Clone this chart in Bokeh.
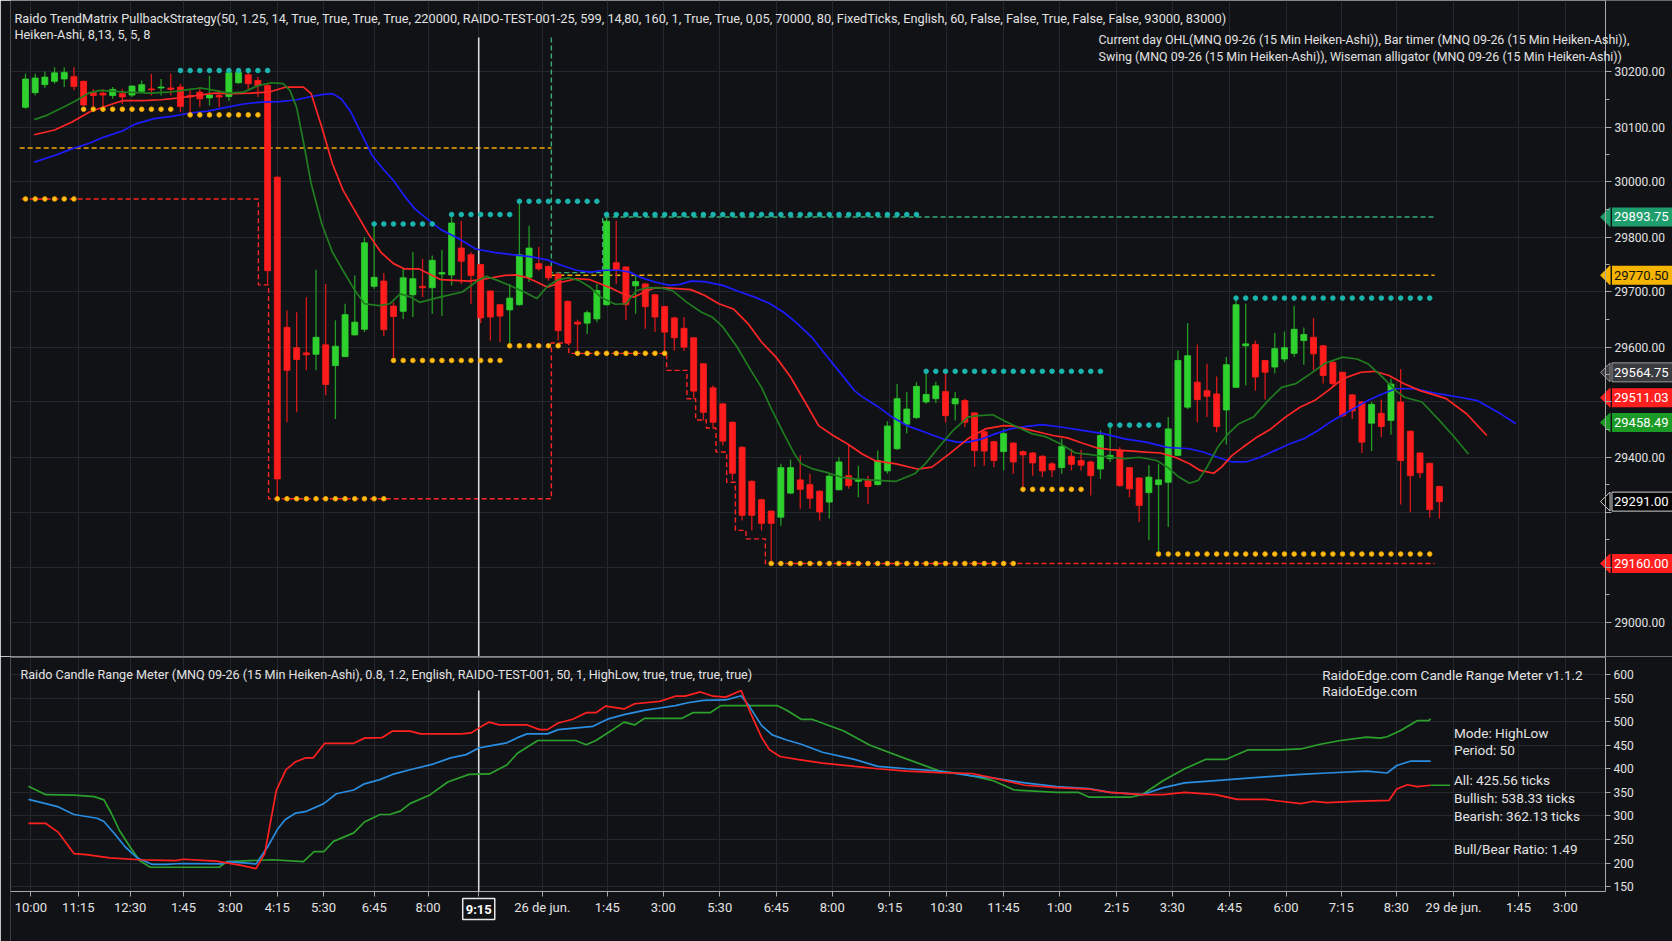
from bokeh.plotting import figure
from bokeh.models import Range1d, FixedTicker, ColumnDataSource, Label
from bokeh.layouts import column
from bokeh.embed import file_html
from bokeh.resources import INLINE

# ---------------- DATA ----------------
opens = [30126, 30157, 30174, 30181, 30186, 30191, 30181, 30157, 30156, 30151,
         30155, 30152, 30160, 30165, 30167, 30167, 30169, 30151, 30158, 30146,
         30151, 30149, 30178, 30195, 30183, 30172, 29978, 29660, 29617, 29606,
         29603, 29623, 29579, 29598, 29644, 29656, 29747, 29758, 29705, 29694,
         29729, 29747, 29744, 29773, 29771, 29828, 29814, 29793, 29737, 29708,
         29697, 29708, 29766, 29795, 29789, 29773, 29715, 29671, 29669, 29678,
         29708, 29797, 29788, 29748, 29752, 29729, 29704, 29680, 29658, 29638,
         29583, 29532, 29498, 29459, 29406, 29334, 29295, 29271, 29258, 29309,
         29337, 29327, 29313, 29290, 29316, 29346, 29334, 29337, 29327, 29356,
         29403, 29455, 29469, 29502, 29509, 29524, 29498, 29505, 29479, 29439,
         29418, 29397, 29415, 29397, 29394, 29387, 29371, 29363, 29387, 29378,
         29375, 29360, 29382, 29398, 29363, 29341, 29310, 29327, 29332, 29389,
         29491, 29544, 29526, 29519, 29485, 29533, 29621, 29624, 29590, 29576,
         29593, 29605, 29632, 29639, 29621, 29586, 29565, 29517, 29502, 29457,
         29478, 29463, 29502, 29440, 29394, 29372, 29323]
highs = [30197, 30197, 30202, 30211, 30211, 30211, 30183, 30165, 30165, 30169,
         30165, 30172, 30183, 30197, 30186, 30197, 30176, 30162, 30169, 30193,
         30162, 30204, 30205, 30204, 30190, 30177, 29980, 29696, 29692, 29724,
         29782, 29752, 29675, 29710, 29770, 29851, 29881, 29775, 29713, 29784,
         29819, 29805, 29812, 29824, 29895, 29886, 29819, 29794, 29738, 29710,
         29752, 29926, 29875, 29830, 29791, 29777, 29717, 29676, 29696, 29752,
         29897, 29886, 29789, 29771, 29754, 29731, 29706, 29683, 29682, 29639,
         29584, 29537, 29500, 29461, 29408, 29336, 29297, 29272, 29371, 29380,
         29389, 29350, 29315, 29350, 29385, 29413, 29367, 29346, 29399, 29461,
         29540, 29523, 29544, 29565, 29545, 29563, 29523, 29509, 29480, 29442,
         29420, 29445, 29417, 29399, 29396, 29389, 29375, 29424, 29403, 29401,
         29378, 29442, 29449, 29406, 29364, 29343, 29368, 29371, 29470, 29611,
         29669, 29623, 29583, 29556, 29597, 29724, 29710, 29632, 29591, 29648,
         29651, 29706, 29660, 29680, 29623, 29588, 29566, 29519, 29504, 29502,
         29507, 29551, 29572, 29442, 29396, 29374, 29325]
lows = [30123, 30151, 30167, 30176, 30169, 30162, 30129, 30126, 30126, 30144,
        30133, 30148, 30158, 30151, 30151, 30151, 30116, 30116, 30126, 30130,
        30126, 30140, 30176, 30162, 30148, 29752, 29300, 29459, 29480, 29569,
        29569, 29516, 29466, 29597, 29643, 29650, 29742, 29642, 29590, 29678,
        29682, 29724, 29689, 29684, 29749, 29752, 29710, 29669, 29632, 29629,
        29622, 29706, 29756, 29780, 29759, 29632, 29625, 29611, 29646, 29671,
        29706, 29752, 29675, 29689, 29657, 29650, 29604, 29611, 29610, 29509,
        29463, 29445, 29410, 29336, 29251, 29230, 29230, 29159, 29240, 29307,
        29276, 29276, 29251, 29255, 29315, 29318, 29300, 29286, 29325, 29350,
        29401, 29435, 29466, 29498, 29500, 29459, 29463, 29449, 29365, 29367,
        29364, 29357, 29350, 29322, 29346, 29343, 29343, 29350, 29357, 29357,
        29304, 29339, 29375, 29322, 29300, 29248, 29209, 29180, 29237, 29387,
        29487, 29459, 29470, 29438, 29412, 29532, 29537, 29526, 29507, 29563,
        29586, 29597, 29581, 29569, 29541, 29533, 29470, 29466, 29394, 29398,
        29428, 29433, 29285, 29269, 29341, 29257, 29255]
closes = [30186, 30188, 30190, 30199, 30200, 30170, 30131, 30151, 30152, 30164,
          30148, 30171, 30174, 30163, 30169, 30164, 30128, 30148, 30144, 30152,
          30148, 30199, 30200, 30176, 30172, 29780, 29339, 29569, 29592, 29602,
          29639, 29539, 29620, 29687, 29671, 29839, 29766, 29655, 29683, 29765,
          29763, 29744, 29802, 29776, 29881, 29800, 29770, 29680, 29682, 29684,
          29722, 29814, 29828, 29784, 29765, 29653, 29627, 29667, 29691, 29738,
          29885, 29782, 29708, 29757, 29704, 29682, 29650, 29638, 29618, 29525,
          29480, 29459, 29419, 29351, 29262, 29262, 29245, 29245, 29363, 29363,
          29317, 29298, 29269, 29345, 29375, 29325, 29338, 29323, 29378, 29451,
          29509, 29487, 29535, 29518, 29536, 29473, 29509, 29459, 29399, 29398,
          29378, 29435, 29375, 29390, 29373, 29356, 29358, 29408, 29370, 29368,
          29346, 29431, 29389, 29325, 29318, 29283, 29343, 29337, 29445, 29590,
          29600, 29507, 29514, 29450, 29581, 29708, 29625, 29555, 29565, 29615,
          29617, 29656, 29645, 29604, 29558, 29541, 29473, 29483, 29417, 29497,
          29450, 29540, 29378, 29346, 29352, 29274, 29291]

# Wiseman alligator lines (bar index, price)
gator_green = [(0.9, 30100), (2.2, 30109), (3.9, 30126), (5.2, 30140), (6.5, 30156), (7.7, 30162),
               (10.3, 30158), (12.9, 30156), (14.8, 30158), (16.6, 30163), (18.1, 30167), (19.5, 30162),
               (21.0, 30156), (22.5, 30158), (24.0, 30172), (25.4, 30178), (26.6, 30176), (27.3, 30162),
               (28.0, 30126), (28.8, 30042), (29.5, 29964), (30.6, 29879), (31.7, 29819), (32.8, 29780),
               (33.9, 29742), (35.0, 29710), (36.5, 29706), (37.6, 29710), (38.7, 29731), (39.8, 29724),
               (40.7, 29713), (42.8, 29724), (45.1, 29735), (46.7, 29759), (47.6, 29768), (48.8, 29759),
               (50.2, 29747), (51.7, 29733), (52.8, 29721), (53.9, 29747), (55.0, 29761), (56.1, 29765),
               (57.2, 29759), (58.3, 29745), (59.4, 29724), (60.9, 29709), (62.0, 29710), (63.1, 29738),
               (64.2, 29744), (65.7, 29743), (66.8, 29738), (68.3, 29713), (69.8, 29692), (70.9, 29682),
               (72.0, 29661), (73.5, 29618), (74.9, 29569), (76.0, 29533), (77.1, 29484), (78.3, 29435),
               (79.4, 29392), (80.1, 29371), (81.2, 29361), (82.7, 29353), (84.2, 29343), (85.6, 29339),
               (87.1, 29337), (89.9, 29334), (91.8, 29350), (92.9, 29371), (94.3, 29406), (95.8, 29442),
               (97.3, 29470), (98.4, 29473), (99.9, 29475), (101.0, 29463), (102.4, 29449), (103.9, 29435),
               (105.4, 29428), (106.9, 29413), (108.4, 29394), (109.8, 29391), (112.0, 29385), (113.5, 29382),
               (115.0, 29385), (116.8, 29378), (117.9, 29364), (119.1, 29343), (120.2, 29330), (121.1, 29336),
               (122.0, 29364), (123.1, 29406), (124.2, 29435), (125.3, 29456), (126.8, 29470), (128.3, 29505),
               (129.7, 29533), (131.2, 29541), (132.7, 29562), (134.2, 29584), (136.0, 29597), (137.5, 29593),
               (138.6, 29583), (140.1, 29555), (141.5, 29526), (142.4, 29512), (144.2, 29502), (146.0, 29463),
               (147.4, 29431), (149.0, 29392)]
gator_red = [(0.9, 30068), (3.0, 30078), (4.8, 30095), (6.6, 30116), (8.5, 30130), (10.0, 30140),
             (12.2, 30140), (14.0, 30142), (15.9, 30146), (17.7, 30151), (19.5, 30156), (21.4, 30155),
             (23.2, 30156), (25.1, 30158), (26.9, 30169), (28.7, 30169), (29.5, 30155), (30.6, 30084),
             (31.7, 30006), (32.8, 29950), (33.9, 29911), (35.4, 29858), (36.7, 29819), (38.0, 29795),
             (39.1, 29784), (40.6, 29784), (41.7, 29773), (42.9, 29761), (45.8, 29758), (47.6, 29763),
             (49.5, 29770), (50.6, 29771), (51.7, 29766), (52.8, 29756), (53.9, 29745), (55.4, 29756),
             (56.9, 29763), (58.3, 29761), (59.4, 29752), (60.6, 29742), (61.7, 29731), (62.8, 29724),
             (63.9, 29735), (65.0, 29744), (66.5, 29743), (68.7, 29740), (70.1, 29728), (71.6, 29710),
             (73.1, 29699), (74.6, 29668), (76.0, 29629), (77.5, 29597), (79.0, 29555), (80.5, 29502),
             (81.9, 29452), (83.4, 29431), (84.9, 29413), (86.4, 29392), (87.7, 29378), (89.9, 29371),
             (92.1, 29360), (93.6, 29364), (95.4, 29392), (97.3, 29424), (99.1, 29445), (101.0, 29452),
             (102.1, 29451), (103.2, 29445), (104.7, 29438), (106.1, 29431), (107.6, 29426), (109.1, 29415),
             (110.6, 29405), (112.0, 29401), (114.3, 29398), (115.7, 29396), (117.2, 29394), (118.7, 29385),
             (120.2, 29371), (121.3, 29357), (122.7, 29351), (123.5, 29364), (124.6, 29389), (125.7, 29406),
             (127.2, 29428), (128.6, 29445), (130.1, 29470), (131.6, 29491), (133.1, 29505), (134.5, 29526),
             (136.0, 29551), (137.9, 29565), (139.3, 29567), (140.8, 29558), (142.3, 29541), (144.0, 29526),
             (145.3, 29518), (146.7, 29509), (148.8, 29477), (150.9, 29431)]
gator_blue = [(0.9, 30010), (3.0, 30024), (4.8, 30038), (6.6, 30050), (8.1, 30063), (10.0, 30076),
              (11.4, 30091), (13.3, 30102), (15.1, 30107), (17.0, 30114), (18.8, 30118), (20.7, 30126),
              (22.5, 30133), (24.3, 30137), (26.2, 30138), (28.0, 30142), (29.5, 30149), (30.6, 30153),
              (31.7, 30155), (32.6, 30144), (33.6, 30116), (34.7, 30070), (35.8, 30024), (36.9, 29996),
              (38.0, 29971), (39.1, 29939), (40.2, 29911), (41.7, 29886), (42.9, 29867), (44.7, 29848),
              (46.5, 29826), (48.4, 29819), (50.2, 29814), (52.1, 29810), (53.9, 29803), (55.4, 29791),
              (56.9, 29781), (58.3, 29777), (59.8, 29781), (61.3, 29781), (62.4, 29777), (63.5, 29766),
              (65.0, 29756), (66.5, 29749), (67.6, 29751), (68.7, 29758), (70.1, 29757), (72.0, 29749),
              (73.8, 29735), (75.3, 29724), (76.8, 29711), (78.3, 29692), (79.7, 29668), (81.2, 29639),
              (82.7, 29600), (84.2, 29562), (85.6, 29526), (86.2, 29516), (88.1, 29491), (89.5, 29470),
              (91.0, 29452), (92.9, 29438), (94.7, 29424), (96.2, 29417), (97.3, 29417), (98.8, 29424),
              (100.2, 29435), (101.7, 29445), (103.2, 29450), (105.0, 29454), (106.9, 29449), (109.1, 29442),
              (111.3, 29435), (113.5, 29424), (115.7, 29417), (117.9, 29406), (120.2, 29403), (121.6, 29396),
              (123.1, 29385), (124.6, 29375), (126.0, 29375), (127.5, 29385), (129.0, 29399), (130.5, 29413),
              (132.0, 29424), (133.5, 29442), (135.0, 29463), (136.8, 29484), (138.6, 29505), (140.1, 29519),
              (141.5, 29530), (143.5, 29530), (146.0, 29519), (148.1, 29512), (149.9, 29505), (152.0, 29481),
              (153.9, 29456)]

# Swing highs / lows: (first bar, last bar, level)
swing_high_runs = [(16, 25, 30204), (36, 42, 29879), (44, 50, 29899), (51, 59, 29927),
                   (60, 92, 29899), (93, 111, 29567), (112, 117, 29453), (125, 145, 29722)]
swing_low_runs = [(0, 5, 29932), (6, 15, 30122), (17, 24, 30110), (26, 37, 29297),
                  (38, 49, 29590), (50, 55, 29621), (57, 66, 29605), (77, 102, 29160),
                  (103, 109, 29317), (117, 145, 29180)]

# Current day OHL step lines (bar index, price)
day_open_segments = [(-0.6, 54.3, 30040.0), (54.3, 145.5, 29770.5)]
day_high_steps = [(54.3, 30274), (54.3, 29776), (59.6, 29776), (59.6, 29893.75), (145.5, 29893.75)]
day_low_steps = [(-0.4, 29932), (24.05, 29932), (24.05, 29750), (25.1, 29750), (25.1, 29297),
                 (54.3, 29297), (54.3, 29627), (56.1, 29627), (56.1, 29605), (66.2, 29605),
                 (66.2, 29569), (68.3, 29569), (68.3, 29509), (69.2, 29509), (69.2, 29464),
                 (70.3, 29464), (70.3, 29447), (71.3, 29447), (71.3, 29396), (72.4, 29396),
                 (72.4, 29332), (73.3, 29332), (73.3, 29230), (74.4, 29230), (74.4, 29212),
                 (76.4, 29212), (76.4, 29160), (145.5, 29160)]
cursor_bar = 46.8
cursor_top = 30274

# Price tags on the right axis
tag_prices = [29893.75, 29770.50, 29564.75, 29511.03, 29458.49, 29291.00, 29160.00]
tag_fill = ["#1f9e6d", "#f4b400", "#3a3b3f", "#ff1f1f", "#1c9a26", "#050505", "#ff1f1f"]
tag_text_color = ["#ffffff", "#111111", "#ffffff", "#ffffff", "#ffffff", "#ffffff", "#ffffff"]
tag_border = [None, None, "#9a9a9a", None, None, "#d0d0d0", None]

# Axis ticks
y_tick_pos = [30201, 30084, 29968, 29851, 29735, 29618, 29502, 29385, 29268, 29152, 29035]
y_tick_text = ["30200.00", "30100.00", "30000.00", "29800.00", "29700.00", "29600.00", "",
               "29400.00", "", "", "29000.00"]
x_tick_pos = [0.56, 5.45, 10.80, 16.31, 21.15, 25.99, 30.78, 36.01, 41.57, 46.80, 53.36, 60.07,
              65.85, 71.68, 77.53, 83.30, 89.25, 95.08, 100.98, 106.76, 112.65, 118.43, 124.32,
              130.16, 135.88, 141.55, 147.45, 154.16, 159.0]
x_tick_text = ["10:00", "11:15", "12:30", "1:45", "3:00", "4:15", "5:30", "6:45", "8:00", "9:15",
               "26 de jun.", "1:45", "3:00", "5:30", "6:45", "8:00", "9:15", "10:30", "11:45", "1:00",
               "2:15", "3:30", "4:45", "6:00", "7:15", "8:30", "29 de jun.", "1:45", "3:00"]
range_ticks = [150, 200, 250, 300, 350, 400, 450, 500, 550, 600]

# Candle Range Meter (bar index, ticks)
crm_all = [(0.3, 335), (2.1, 326), (3.4, 319), (5.0, 303), (7.4, 295), (8.1, 288), (9.2, 262),
           (10.3, 234), (11.6, 210), (13.1, 197), (14.5, 197), (16.0, 199), (20.2, 198), (21.0, 203),
           (23.8, 198), (25.0, 234), (26.0, 271), (26.8, 292), (27.9, 306), (28.9, 309), (30.8, 326),
           (32.1, 347), (33.9, 355), (35.0, 368), (36.6, 377), (37.9, 388), (39.7, 398), (42.1, 410),
           (43.9, 423), (45.5, 430), (46.8, 444), (48.1, 449), (49.7, 455), (50.8, 466), (51.8, 474),
           (53.9, 474), (55.0, 483), (58.6, 490), (60.2, 506), (61.8, 515), (63.9, 524), (65.5, 529),
           (67.1, 534), (68.4, 540), (70.0, 545), (72.3, 546), (73.9, 555), (74.7, 534), (76.0, 492),
           (77.1, 472), (78.6, 461), (80.1, 452), (82.3, 435), (85.6, 420), (88.0, 405), (91.0, 400),
           (94.4, 395), (97.7, 385), (100.0, 380), (103.2, 370), (106.5, 362), (109.8, 358),
           (112.0, 350), (115.3, 345), (117.5, 360), (119.7, 370), (122.9, 375), (126.2, 380),
           (129.5, 385), (131.7, 388), (134.4, 391), (138.5, 395), (140.6, 391), (141.6, 407),
           (143.0, 416), (145.1, 416)]
crm_bull = [(0.3, 363), (2.1, 345), (5.0, 344), (7.1, 341), (8.1, 334), (8.9, 304), (9.7, 269),
            (10.8, 234), (11.8, 205), (12.9, 191), (17.6, 191), (20.0, 191), (20.8, 203), (25.5, 207),
            (28.7, 203), (29.8, 224), (30.8, 224), (31.8, 246), (33.9, 264), (35.0, 287), (36.6, 303),
            (37.6, 303), (38.7, 310), (39.7, 326), (41.8, 345), (43.6, 372), (45.8, 388), (47.9, 389),
            (49.7, 408), (50.8, 433), (52.9, 460), (56.8, 460), (57.9, 451), (58.9, 460), (60.5, 481),
            (61.8, 499), (62.9, 493), (63.9, 507), (67.8, 507), (68.9, 519), (70.7, 519), (71.8, 534),
            (77.6, 534), (78.6, 524), (80.1, 505), (81.2, 505), (84.5, 480), (87.2, 450), (91.1, 420),
            (94.4, 395), (96.6, 390), (99.9, 375), (102.1, 355), (106.5, 350), (108.7, 350),
            (109.8, 340), (114.2, 340), (115.3, 345), (117.5, 375), (119.7, 400), (121.9, 420),
            (124.0, 420), (126.2, 440), (129.5, 440), (131.7, 442), (133.7, 452), (135.8, 460),
            (138.5, 467), (139.9, 465), (140.6, 468), (142.0, 481), (143.7, 502), (144.9, 502),
            (145.1, 506)]
crm_bear = [(0.3, 284), (2.1, 284), (3.4, 265), (5.0, 220), (6.3, 218), (8.7, 211), (11.8, 207),
            (15.5, 205), (16.3, 208), (19.7, 204), (22.3, 195), (23.8, 188), (24.7, 220), (25.9, 354),
            (26.9, 398), (27.9, 415), (28.9, 423), (29.7, 423), (30.9, 454), (33.9, 454), (35.0, 465),
            (36.8, 466), (37.9, 480), (39.7, 480), (40.8, 474), (45.0, 474), (46.0, 476), (47.1, 490),
            (47.9, 499), (48.9, 493), (51.8, 493), (53.1, 483), (53.9, 483), (55.0, 497), (56.5, 505),
            (57.9, 519), (58.9, 519), (59.9, 533), (61.8, 527), (62.9, 538), (65.5, 543), (67.1, 554),
            (68.1, 554), (69.7, 563), (71.0, 554), (72.3, 552), (73.9, 566), (74.9, 517), (76.0, 467),
            (76.8, 441), (77.9, 426), (79.7, 420), (82.3, 412), (85.6, 405), (88.0, 400), (91.0, 395),
            (94.4, 392), (97.7, 390), (100.0, 380), (103.2, 365), (106.5, 360), (109.8, 357),
            (112.0, 350), (115.3, 345), (117.5, 345), (119.7, 350), (122.9, 345), (125.1, 335),
            (128.0, 335), (131.7, 326), (133.0, 331), (134.4, 328), (137.2, 331), (140.8, 333),
            (141.6, 357), (142.7, 366), (143.7, 362), (145.1, 365)]
crm_all_marker = [(145.1, 365), (147.1, 365)]

main_title = ("Raido TrendMatrix PullbackStrategy(50, 1.25, 14, True, True, True, True, 220000, "
              "RAIDO-TEST-001-25, 599, 14,80, 160, 1, True, True, 0,05, 70000, 80, FixedTicks, "
              "English, 60, False, False, True, False, False, 93000, 83000)")
main_sub = "Heiken-Ashi, 8,13, 5, 5, 8"
legend_lines = ["Current day OHL(MNQ 09-26 (15 Min Heiken-Ashi)), Bar timer (MNQ 09-26 (15 Min Heiken-Ashi)),",
                "Swing (MNQ 09-26 (15 Min Heiken-Ashi)), Wiseman alligator (MNQ 09-26 (15 Min Heiken-Ashi))"]
crm_title = ("Raido Candle Range Meter (MNQ 09-26 (15 Min Heiken-Ashi), 0.8, 1.2, English, "
             "RAIDO-TEST-001, 50, 1, HighLow, true, true, true, true)")
crm_head = ["RaidoEdge.com Candle Range Meter v1.1.2", "RaidoEdge.com"]
crm_stats = [("Mode: HighLow", 476), ("Period: 50", 440), ("All: 425.56 ticks", 376),
             ("Bullish: 538.33 ticks", 338), ("Bearish: 362.13 ticks", 299),
             ("Bull/Bear Ratio: 1.49", 229)]

# ---------------- STYLE / GEOMETRY ----------------
BG = "#111216"
GRID = "#24272d"
AXIS = "#a9a9a9"
TXT = "#e2e2e2"
FONT = "Roboto"
UP = "#2fd12f"
UP_WICK = "#239a23"
DN = "#ff1c1c"
DN_WICK = "#d81818"

X0, X1 = -1.549, 170.07        # frame spans the full canvas width to the right
AXIS_X = 163.16                # price axis sits here (axis column to its right)
Y1_LO, Y1_HI = 28963.0, 30352.24
Y2_LO, Y2_HI = 33.5, 638.2
Y2_AXIS = 139.6                # time axis sits here
TAG_TIP_X, TAG_BASE_X, TAG_HALF_H = 162.64, 163.62, 20.0

x_range = Range1d(X0, X1)


def unzip(pairs):
    return [a for a, _ in pairs], [b for _, b in pairs]


def style_fig(p):
    p.background_fill_color = BG
    p.border_fill_color = BG
    p.outline_line_color = None
    p.grid.grid_line_color = GRID
    p.grid.grid_line_width = 1


def style_axis(ax, size):
    ax.axis_line_color = AXIS
    ax.major_tick_line_color = AXIS
    ax.minor_tick_line_color = AXIS
    ax.major_tick_in = 0
    ax.minor_tick_in = 0
    ax.major_label_text_color = TXT
    ax.major_label_text_font = FONT
    ax.major_label_text_font_size = size


# ---------------- MAIN PANEL ----------------
p1 = figure(width=1672, height=656, x_range=x_range, y_range=Range1d(Y1_LO, Y1_HI),
            output_backend="svg", toolbar_location=None, y_axis_location="right",
            x_axis_location=None, min_border_left=10, min_border_right=0,
            min_border_top=0, min_border_bottom=0)
style_fig(p1)
p1.xgrid.ticker = FixedTicker(ticks=x_tick_pos)
minor_y = [(a + b) / 2 for a, b in zip(y_tick_pos[:-1], y_tick_pos[1:])]
p1.yaxis.ticker = FixedTicker(ticks=y_tick_pos, minor_ticks=minor_y)
p1.ygrid.ticker = FixedTicker(ticks=y_tick_pos)
p1.yaxis.major_label_overrides = {t: s for t, s in zip(y_tick_pos, y_tick_text)}
for ax in p1.yaxis:
    style_axis(ax, "12px")
    ax.fixed_location = AXIS_X
    ax.major_tick_out = 6
    ax.minor_tick_out = 4
    ax.major_label_standoff = 3

# axis column background (hides grid lines right of the axis)
p1.quad(left=[AXIS_X], right=[X1], bottom=[Y1_LO], top=[Y1_HI], fill_color=BG, line_color=None)

idx = list(range(len(opens)))
up = [c >= o for o, c in zip(opens, closes)]
src = ColumnDataSource(dict(
    i=idx, high=highs, low=lows,
    top=[max(o, c) for o, c in zip(opens, closes)],
    bot=[min(o, c) for o, c in zip(opens, closes)],
    body=[UP if u else DN for u in up],
    wick=[UP_WICK if u else DN_WICK for u in up]))

# level lines
for x0, x1, lvl in day_open_segments:
    p1.segment(x0=[x0], y0=[lvl], x1=[x1], y1=[lvl], line_color="#f2a900", line_width=1.4,
               line_dash="5 3")
hx, hy = unzip(day_high_steps)
p1.line(hx, hy, line_color="#3aa874", line_width=1.4, line_dash="5 3")
lx, ly = unzip(day_low_steps)
p1.line(lx, ly, line_color="#ff2424", line_width=1.4, line_dash="5 3")

# cursor line
p1.segment(x0=[cursor_bar], y0=[Y1_LO], x1=[cursor_bar], y1=[cursor_top],
           line_color="#d9d9d9", line_width=1.6)

# candles
p1.segment(x0="i", y0="low", x1="i", y1="high", line_color="wick", line_width=1.3, source=src)
p1.vbar(x="i", width=0.62, top="top", bottom="bot", fill_color="body", line_color="body",
        line_width=0.8, source=src)

# alligator
for pairs, col in ((gator_blue, "#1c1cff"), (gator_red, "#ff2626"), (gator_green, "#1f7d1f")):
    gx, gy = unzip(pairs)
    p1.line(gx, gy, line_color=col, line_width=1.7)

# swing dots
sx, sy = [], []
for a, b, lvl in swing_high_runs:
    for k in range(a, b + 1):
        sx.append(k)
        sy.append(lvl)
p1.scatter(sx, sy, size=4.6, fill_color="#19b5ae", line_color="#19b5ae")
wx, wy = [], []
for a, b, lvl in swing_low_runs:
    for k in range(a, b + 1):
        wx.append(k)
        wy.append(lvl)
p1.scatter(wx, wy, size=4.6, fill_color="#ffc21a", line_color="#f0a000")

# texts
p1.add_layout(Label(x=-1.14, y=30314, text=main_title, text_font=FONT, text_font_size="12.75px",
                    text_color=TXT, text_baseline="middle"))
p1.add_layout(Label(x=-1.14, y=30280, text=main_sub, text_font=FONT, text_font_size="12.75px",
                    text_color=TXT, text_baseline="middle"))
for k, line in enumerate(legend_lines):
    p1.add_layout(Label(x=110.8, y=30268.6 - 33.9 * k, text=line, text_font=FONT,
                        text_font_size="12.42px", text_color=TXT, text_baseline="middle"))

# price tags: pointed left end + labelled box
p1.patches(xs=[[TAG_TIP_X, TAG_BASE_X, TAG_BASE_X] for _ in tag_prices],
           ys=[[pr, pr + TAG_HALF_H, pr - TAG_HALF_H] for pr in tag_prices],
           fill_color=tag_fill, line_color=[b if b else f for b, f in zip(tag_border, tag_fill)],
           line_width=1)
for price, fill, tcol, bcol in zip(tag_prices, tag_fill, tag_text_color, tag_border):
    p1.add_layout(Label(x=163.82, y=price, text=" %.2f " % price, text_font=FONT,
                        text_font_size="13px", text_color=tcol, text_align="left",
                        text_baseline="middle", background_fill_color=fill,
                        border_line_color=bcol, border_line_width=1, padding=2))

# ---------------- LOWER PANEL ----------------
p2 = figure(width=1672, height=285, x_range=x_range, y_range=Range1d(Y2_LO, Y2_HI),
            output_backend="svg", toolbar_location=None, y_axis_location="right",
            min_border_left=10, min_border_right=0, min_border_top=0, min_border_bottom=0)
style_fig(p2)
p2.xaxis.ticker = FixedTicker(ticks=x_tick_pos)
p2.xgrid.ticker = FixedTicker(ticks=x_tick_pos)
p2.xaxis.major_label_overrides = {t: s for t, s in zip(x_tick_pos, x_tick_text)}
p2.yaxis.ticker = FixedTicker(ticks=range_ticks)
p2.ygrid.ticker = FixedTicker(ticks=range_ticks)
for ax in p2.xaxis:
    style_axis(ax, "13px")
    ax.fixed_location = Y2_AXIS
    ax.bounds = (X0, AXIS_X)
    ax.major_tick_out = 5
    ax.minor_tick_line_color = None
    ax.major_label_standoff = 4
for ax in p2.yaxis:
    style_axis(ax, "12px")
    ax.fixed_location = AXIS_X
    ax.bounds = (Y2_AXIS, Y2_HI)
    ax.major_tick_out = 5
    ax.minor_tick_line_color = None
    ax.major_label_standoff = 3

# backgrounds for the axis column and the time-label strip
p2.quad(left=[AXIS_X], right=[X1], bottom=[Y2_LO], top=[Y2_HI], fill_color=BG, line_color=None)
p2.quad(left=[X0], right=[X1], bottom=[Y2_LO], top=[Y2_AXIS], fill_color=BG, line_color=None)

# separator between the panels
p2.segment(x0=[X0], y0=[Y2_HI - 1.0], x1=[AXIS_X], y1=[Y2_HI - 1.0], line_color="#8a8a8a",
           line_width=1.6)
p2.segment(x0=[cursor_bar], y0=[Y2_AXIS], x1=[cursor_bar], y1=[566],
           line_color="#d9d9d9", line_width=1.6)

for pairs, col in ((crm_bull, "#2ca02c"), (crm_all, "#2a8de0"), (crm_bear, "#ff2020")):
    cx, cy = unzip(pairs)
    p2.line(cx, cy, line_color=col, line_width=1.7)
mx, my = unzip(crm_all_marker)
p2.line(mx, my, line_color="#2ca02c", line_width=1.5)

p2.add_layout(Label(x=-0.52, y=600, text=crm_title, text_font=FONT, text_font_size="12.6px",
                    text_color=TXT, text_baseline="middle"))
for k, line in enumerate(crm_head):
    p2.add_layout(Label(x=133.9, y=600 - 36 * k, text=line, text_font=FONT, text_font_size="13.6px",
                        text_color=TXT, text_baseline="middle"))
for line, yv in crm_stats:
    p2.add_layout(Label(x=147.5, y=yv, text=line, text_font=FONT, text_font_size="13.6px",
                        text_color=TXT, text_baseline="middle"))

# highlighted time on the axis
p2.add_layout(Label(x=cursor_bar, y=102.4, text="9:15", text_font=FONT, text_font_size="13px",
                    text_font_style="bold", text_color="#ffffff", text_align="center",
                    text_baseline="middle", background_fill_color=BG,
                    border_line_color="#e8e8e8", border_line_width=1.5, padding=3))

layout = column(p1, p2)
open("out.html", "w").write(file_html(layout, INLINE))
